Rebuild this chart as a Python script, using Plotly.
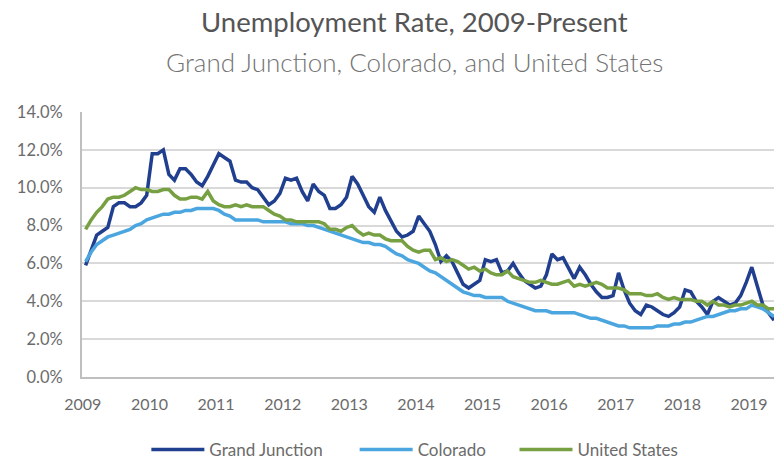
import plotly.graph_objects as go

years = ["2009", "2010", "2011", "2012", "2013", "2014", "2015", "2016", "2017", "2018", "2019"]

grand_junction = [
    5.9, 6.7, 7.5, 7.7, 7.9, 9.0, 9.2, 9.2, 9.0, 9.0, 9.2, 9.6,
    11.8, 11.8, 12.0, 10.7, 10.4, 11.0, 11.0, 10.7, 10.3, 10.1, 10.6, 11.2,
    11.8, 11.6, 11.4, 10.4, 10.3, 10.3, 10.0, 9.9, 9.5, 9.1, 9.3, 9.7,
    10.5, 10.4, 10.5, 9.8, 9.3, 10.2, 9.8, 9.6, 8.9, 8.9, 9.1, 9.5,
    10.6, 10.2, 9.6, 9.0, 8.7, 9.5, 8.8, 8.2, 7.7, 7.4, 7.5, 7.7,
    8.5, 8.1, 7.7, 7.0, 6.1, 6.4, 6.1, 5.5, 4.9, 4.7, 4.9, 5.1,
    6.2, 6.1, 6.2, 5.5, 5.6, 6.0, 5.5, 5.1, 4.9, 4.7, 4.8, 5.4,
    6.5, 6.2, 6.3, 5.7, 5.2, 5.8, 5.4, 4.9, 4.5, 4.2, 4.2, 4.3,
    5.5, 4.6, 3.9, 3.5, 3.3, 3.8, 3.7, 3.5, 3.3, 3.2, 3.4, 3.7,
    4.6, 4.5, 4.0, 3.7, 3.3, 4.0, 4.2, 4.0, 3.8, 3.9, 4.3, 5.0,
    5.8, 4.8, 3.8, 3.4, 3.0,
]

colorado = [
    6.1, 6.6, 7.0, 7.2, 7.4, 7.5, 7.6, 7.7, 7.8, 8.0, 8.1, 8.3,
    8.4, 8.5, 8.6, 8.6, 8.7, 8.7, 8.8, 8.8, 8.9, 8.9, 8.9, 8.9,
    8.8, 8.6, 8.5, 8.3, 8.3, 8.3, 8.3, 8.3, 8.2, 8.2, 8.2, 8.2,
    8.2, 8.1, 8.1, 8.1, 8.0, 8.0, 7.9, 7.8, 7.7, 7.6, 7.5, 7.4,
    7.3, 7.2, 7.1, 7.1, 7.0, 7.0, 6.9, 6.7, 6.5, 6.4, 6.2, 6.1,
    6.0, 5.8, 5.6, 5.5, 5.3, 5.1, 4.9, 4.7, 4.5, 4.4, 4.3, 4.3,
    4.2, 4.2, 4.2, 4.2, 4.0, 3.9, 3.8, 3.7, 3.6, 3.5, 3.5, 3.5,
    3.4, 3.4, 3.4, 3.4, 3.4, 3.3, 3.2, 3.1, 3.1, 3.0, 2.9, 2.8,
    2.7, 2.7, 2.6, 2.6, 2.6, 2.6, 2.6, 2.7, 2.7, 2.7, 2.8, 2.8,
    2.9, 2.9, 3.0, 3.1, 3.2, 3.2, 3.3, 3.4, 3.5, 3.5, 3.6, 3.6,
    3.8, 3.7, 3.6, 3.4, 3.2,
]

united_states = [
    7.8, 8.3, 8.7, 9.0, 9.4, 9.5, 9.5, 9.6, 9.8, 10.0, 9.9, 9.9,
    9.8, 9.8, 9.9, 9.9, 9.6, 9.4, 9.4, 9.5, 9.5, 9.4, 9.8, 9.3,
    9.1, 9.0, 9.0, 9.1, 9.0, 9.1, 9.0, 9.0, 9.0, 8.8, 8.6, 8.5,
    8.3, 8.3, 8.2, 8.2, 8.2, 8.2, 8.2, 8.1, 7.8, 7.8, 7.7, 7.9,
    8.0, 7.7, 7.5, 7.6, 7.5, 7.5, 7.3, 7.2, 7.2, 7.2, 6.9, 6.7,
    6.6, 6.7, 6.7, 6.2, 6.3, 6.1, 6.2, 6.1, 5.9, 5.7, 5.8, 5.6,
    5.7, 5.5, 5.4, 5.4, 5.6, 5.3, 5.2, 5.1, 5.0, 5.0, 5.1, 5.0,
    4.9, 4.9, 5.0, 5.1, 4.8, 4.9, 4.8, 4.9, 5.0, 4.9, 4.7, 4.7,
    4.7, 4.6, 4.4, 4.4, 4.4, 4.3, 4.3, 4.4, 4.2, 4.1, 4.2, 4.1,
    4.1, 4.1, 4.0, 4.0, 3.8, 4.0, 3.8, 3.8, 3.7, 3.8, 3.8, 3.9,
    4.0, 3.8, 3.8, 3.6, 3.6,
]

months = list(range(len(grand_junction)))
tick_positions = [12 * i - 0.5 for i in range(len(years))]

FONT = "Lato"
TXT = "#595959"
LIGHT = "#6b6b6b"

fig = go.Figure()
series = [
    ("Grand Junction", grand_junction, "#213f8f", "legend", 0.093),
    ("Colorado", colorado, "#4ba6e0", "legend2", 0.394),
    ("United States", united_states, "#77a043", "legend3", 0.625),
]
legend_cfg = {}
for name, vals, color, lg, lx in series:
    fig.add_trace(go.Scatter(
        x=months, y=vals, mode="lines", name=name, legend=lg,
        line=dict(color=color, width=3.5),
        hovertemplate="%{y:.1f}%<extra>" + name + "</extra>",
    ))
    legend_cfg[lg] = dict(orientation="h", x=lx, xanchor="left", y=-0.275, yanchor="middle",
                          font=dict(size=17, color=LIGHT, family=FONT), itemwidth=53,
                          bgcolor="rgba(0,0,0,0)")

fig.update_layout(
    width=774, height=463,
    margin=dict(l=82, r=0, t=112, b=86, autoexpand=False),
    paper_bgcolor="white", plot_bgcolor="white",
    font=dict(family=FONT, color=TXT, size=16),
    showlegend=True,
    xaxis=dict(
        range=[-0.65, 124.0], automargin=False,
        tickmode="array", tickvals=tick_positions, ticktext=years,
        showgrid=False, zeroline=False,
        showline=True, linecolor="#bfbfbf", linewidth=2,
        ticks="", ticklabelstandoff=12,
        tickfont=dict(size=16, color=LIGHT),
    ),
    yaxis=dict(
        range=[0, 14], dtick=2, tickformat=".1f", ticksuffix="%", automargin=False,
        showgrid=True, gridcolor="#d9d9d9", gridwidth=2,
        zeroline=False, showline=True, linecolor="#bfbfbf", linewidth=2,
        ticks="", ticklabelstandoff=14,
        tickfont=dict(size=16.5, color=LIGHT),
    ),
    annotations=[
        dict(text="Unemployment Rate, 2009-Present", x=0.48, y=1.34, xref="paper", yref="paper",
             xanchor="center", yanchor="middle", showarrow=False,
             font=dict(size=27.5, color="#555555", family=FONT)),
        dict(text="Grand Junction, Colorado, and United States", x=0.48, y=1.189, xref="paper", yref="paper",
             xanchor="center", yanchor="middle", showarrow=False,
             font=dict(size=26, color="#737373", family=FONT, weight=300)),
    ],
    **legend_cfg,
)

fig.write_html(
    "out.html",
    config={"displayModeBar": False},
    post_script="document.body.style.margin='0';document.body.style.overflow='hidden';",
)
